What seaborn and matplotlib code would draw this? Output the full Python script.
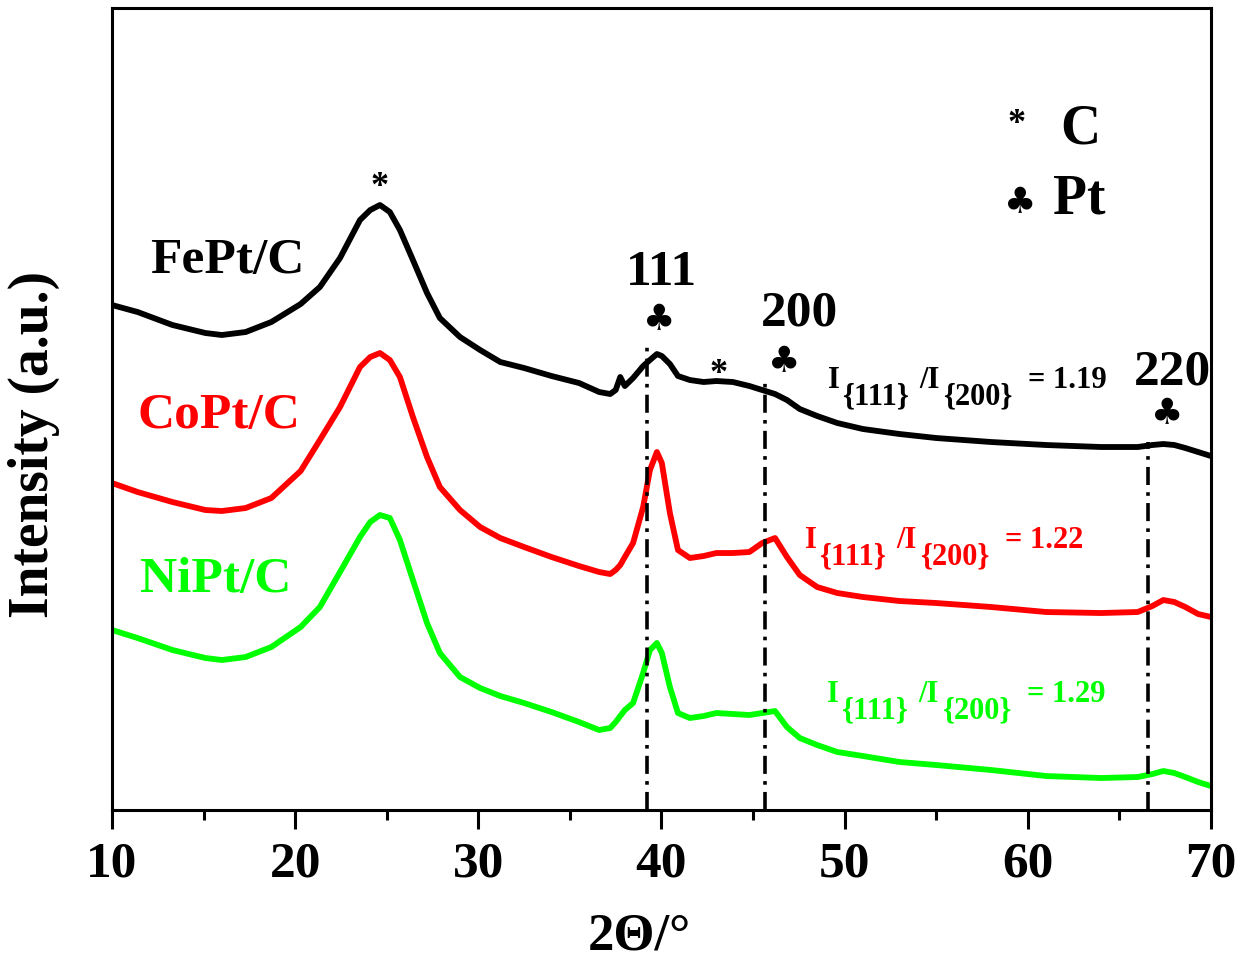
import numpy as np
import pandas as pd
import matplotlib
matplotlib.use("Agg")
import matplotlib.pyplot as plt
import seaborn as sns

# 2-theta sampling points (deg)
two_theta = [10, 11.4, 13.3, 15.1, 16.0, 17.3, 18.7, 20.3, 21.35, 22.45, 23.54, 24.1,
             24.63, 25.17, 25.72, 26.43, 27.2, 27.9, 29.0, 30.1, 31.2, 32.5, 34, 35.5,
             36.6, 37.2, 37.5, 37.75, 38.0, 38.45, 39.0, 39.37, 39.75, 40.02, 40.46,
             40.9, 41.55, 42.3, 43.0, 43.9, 44.8, 45.5, 46.2, 46.85, 47.55, 48.5,
             49.6, 51, 53, 55, 58, 61, 64, 66, 66.8, 67.4, 68.0, 68.6, 69.3, 70]

# intensities (a.u., stacked as in the figure)
fept = [505, 498, 485, 477, 475, 478, 488, 506, 523, 552, 590, 600,
        605, 598, 580, 550, 517, 492, 473, 460, 448, 442, 434, 427,
        418, 416, 420, 433, 424, 432, 444, 450, 456, 454, 446,
        434, 430, 428, 429, 428, 424, 420, 416, 410, 401, 394,
        387, 381, 376, 372, 368, 365, 363, 363, 365, 366, 365, 362, 358, 354]
copt = [327, 318, 308, 300, 299, 302, 312, 339, 370, 403, 443, 453,
        457, 450, 433, 393, 353, 323, 300, 283, 272, 263, 253, 244,
        238, 236, 240, 245, 253, 267, 303, 340, 358, 347, 297,
        260, 252, 254, 257, 257, 258, 267, 272, 253, 235, 223,
        217, 213, 209, 207, 203, 198, 197, 198, 204, 210, 208, 203, 196, 193]
nipt = [180, 172, 160, 152, 150, 153, 163, 183, 203, 238, 273, 288,
        295, 292, 270, 230, 187, 157, 133, 122, 114, 107, 98, 88,
        80, 82, 88, 94, 100, 107, 137, 160, 167, 157, 123,
        97, 92, 94, 97, 96, 95, 97, 99, 83, 72, 65,
        58, 54, 48, 45, 40, 34, 32, 33, 36, 39, 37, 33, 28, 24]

samples = ["FePt/C", "CoPt/C", "NiPt/C"]
colors = ["black", "#FF0000", "#00FF00"]

# reflection guide lines: position and top end
ref_pos = [39.2, 45.65, 66.55]
ref_top = [465, 433, 368]

ratios = ["1.19", "1.22", "1.29"]

df = pd.DataFrame({
    "two_theta": two_theta * 3,
    "intensity": fept + copt + nipt,
    "sample": [s for s in samples for _ in two_theta],
})

sns.set_style("ticks")
plt.rcParams["font.family"] = ["Liberation Serif", "DejaVu Sans"]
plt.rcParams["font.weight"] = "bold"
for key in ["text.color", "axes.edgecolor", "axes.labelcolor", "xtick.color"]:
    plt.rcParams[key] = "black"

fig = plt.figure(figsize=(12.47, 9.65), dpi=100)
ax = fig.add_axes([0.0898, 0.1606, 0.8813, 0.8311])

sns.lineplot(data=df, x="two_theta", y="intensity", hue="sample",
             palette=dict(zip(samples, colors)), linewidth=4.2,
             estimator=None, legend=False, ax=ax,
             solid_joinstyle="round", solid_capstyle="round")

for xp, yt in zip(ref_pos, ref_top):
    ax.plot([xp, xp], [0, yt], color="black", lw=2.6,
            linestyle=(0, (5, 2, 1, 2)))

ax.set_xlim(10, 70)
ax.set_ylim(0, 802)
ax.set_xticks([10, 20, 30, 40, 50, 60, 70])
ax.set_xticks([15, 25, 35, 45, 55, 65], minor=True)
ax.set_yticks([])
ax.tick_params(axis="x", which="major", direction="out", length=14, width=2.2,
               labelsize=37, pad=9)
ax.tick_params(axis="x", which="minor", direction="out", length=7, width=2.2)
for lab in ax.get_xticklabels():
    lab.set_fontweight("bold")
for sp in ax.spines.values():
    sp.set_linewidth(2.2)
    sp.set_visible(True)

ax.set_xlabel("2\u0398/\u00b0", fontsize=38, fontweight="bold")
ax.xaxis.set_label_coords(0.480, -0.128)
ax.set_ylabel("Intensity (a.u.)", fontsize=40, fontweight="bold")
ax.yaxis.set_label_coords(-0.047, 0.456)

# sample names
name_pos = [(12.07, 537), (11.42, 382), (11.53, 218)]
for s, c, (xx, yy) in zip(samples, colors, name_pos):
    ax.text(xx, yy, s, color=c, fontsize=37, fontweight="bold", va="baseline")

# reflection indices
for lab, xx, yy in [("111", 40.02, 525), ("200", 47.55, 485), ("220", 67.9, 426)]:
    ax.text(xx, yy, lab, fontsize=37, fontweight="bold", ha="center", va="baseline")

club_kw = dict(fontsize=26, family="DejaVu Sans", ha="center", va="baseline")
for xx, yy in [(39.9, 480), (46.7, 438), (67.6, 386), (59.56, 597)]:
    ax.text(xx, yy, "\u2663", **club_kw)

star_kw = dict(fontsize=26, fontweight="bold", ha="center", va="baseline")
for xx, yy in [(24.6, 614), (43.1, 427), (59.4, 677)]:
    ax.text(xx, yy, "*", **star_kw)

ax.text(61.75, 667, "C", fontsize=40, fontweight="bold", va="baseline")
ax.text(61.37, 597, "Pt", fontsize=40, fontweight="bold", va="baseline")

# intensity ratio annotations
ratio_pos = [(49.08, 422), (47.83, 262), (49.03, 108)]
pieces = [("I", 0, 0), ("{111}", 10, -11.5), ("/I", 66, 0), ("{200}", 83, -11.5)]
for r, c, (xx, yy) in zip(ratios, colors, ratio_pos):
    for txt, dx, dy in pieces + [("= " + r, 144, 0)]:
        ax.annotate(txt, xy=(xx, yy), xytext=(dx, dy), textcoords="offset points",
                    color=c, fontsize=22, fontweight="bold", va="baseline")

fig.savefig("out.png", dpi=100)
